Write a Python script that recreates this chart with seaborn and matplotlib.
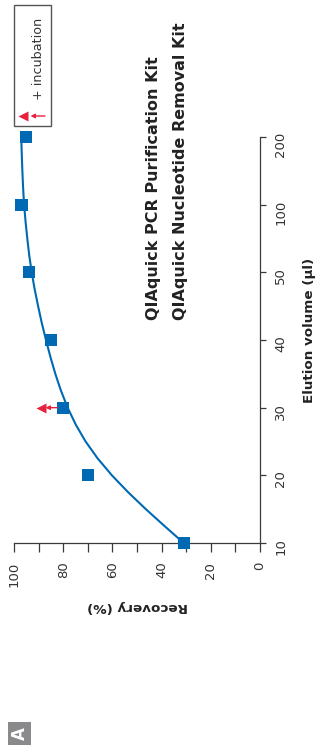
import numpy as np
import pandas as pd
import matplotlib
matplotlib.use("Agg")
import matplotlib.pyplot as plt
import seaborn as sns
from matplotlib.patches import Rectangle

# ---------------- data ----------------
ELUTION_LABELS = ["10", "20", "30", "40", "50", "100", "200"]
RECOVERY = [31, 70, 80, 85, 94, 97, 95]
INCUBATION_AT = "30"
INCUBATION_RECOVERY = 89
# fitted curve (position index on the elution axis, recovery %)
CURVE_POS = [0, 0.25, 0.5, 0.75, 1.0, 1.25, 1.5, 1.75, 2.0, 2.25, 2.5, 2.75, 3.0,
             3.25, 3.5, 3.75, 4.0, 4.25, 4.5, 4.75, 5.0, 5.25, 5.5, 5.75, 6.0]
CURVE_REC = [31, 38.8, 46.4, 53.6, 60.2, 66.0, 70.9, 74.9, 78.2, 80.9, 83.2, 85.2, 87.0,
             88.7, 90.2, 91.6, 92.8, 93.8, 94.6, 95.3, 95.9, 96.3, 96.6, 96.85, 97.05]
RECOVERY_TICKS = [0, 10, 20, 30, 40, 50, 60, 70, 80, 90, 100]
RECOVERY_TICK_LABELS = ["0", "", "20", "", "40", "", "60", "", "80", "", "100"]
TITLE_LINES = ["QIAquick PCR Purification Kit", "QIAquick Nucleotide Removal Kit"]
X_LABEL = "Elution volume (µl)"
Y_LABEL = "Recovery (%)"
LEGEND_LABEL = "+ incubation"
PANEL_LABEL = "A"

BLUE = "#0069b4"
RED = "#e8213f"
AXC = "#3a3a3a"

sns.set_style("white")
plt.rcParams["font.family"] = ["DejaVu Sans"]

W, H = 321, 754
fig = plt.figure(figsize=(W / 100, H / 100), dpi=100)

def fx(x):
    return x / W

def fy(y):
    return 1 - y / H

# main axes (rotated layout): x = recovery (inverted), y = elution position
left_px, right_px, top_px, bot_px = 14, 260, 137, 543
ax = fig.add_axes([fx(left_px), fy(bot_px), (right_px - left_px) / W, (bot_px - top_px) / H])

pos = list(range(len(ELUTION_LABELS)))
df = pd.DataFrame({"pos": pos, "recovery": RECOVERY, "elution": ELUTION_LABELS})
curve = pd.DataFrame({"pos": CURVE_POS, "recovery": CURVE_REC})

sns.lineplot(data=curve, x="recovery", y="pos", sort=False, color=BLUE, lw=1.5,
             ax=ax, zorder=2, clip_on=False, solid_joinstyle="round")
sns.scatterplot(data=df, x="recovery", y="pos", marker="s", s=78, color=BLUE,
                edgecolor="none", linewidth=0, ax=ax, zorder=3, clip_on=False)

inc_pos = ELUTION_LABELS.index(INCUBATION_AT)
inc_rec_square = RECOVERY[inc_pos]
ax.annotate("", xy=(INCUBATION_RECOVERY - 1.8, inc_pos), xytext=(inc_rec_square + 2.5, inc_pos),
            arrowprops=dict(arrowstyle="-|>", color=RED, lw=1.0, mutation_scale=6,
                            shrinkA=0, shrinkB=0), zorder=3, annotation_clip=False)
ax.plot([INCUBATION_RECOVERY], [inc_pos], marker="<", ms=7.5, color=RED, mec="none",
        ls="none", zorder=3, clip_on=False)

ax.set_xlim(100, 0)
ax.set_ylim(0, len(ELUTION_LABELS) - 1)
ax.set_xlabel("")
ax.set_ylabel("")
ax.set_xticks(RECOVERY_TICKS)
ax.set_xticklabels(RECOVERY_TICK_LABELS)
ax.set_yticks(pos)
ax.set_yticklabels(ELUTION_LABELS)
ax.yaxis.tick_right()
for s in ["left", "top"]:
    ax.spines[s].set_visible(False)
for s in ["right", "bottom"]:
    ax.spines[s].set_color(AXC)
    ax.spines[s].set_linewidth(0.9)
ax.tick_params(axis="x", direction="out", length=6.5, width=0.9, color=AXC, pad=7,
               labelsize=9.5, labelcolor="#333333", labelrotation=90, bottom=True)
ax.tick_params(axis="y", direction="out", length=4.3, width=0.9, color=AXC, pad=6,
               labelsize=9.5, labelcolor="#333333", labelrotation=90, right=True, left=False)
ax.patch.set_alpha(0)

# overlay in pixel coordinates for texts / legend
ov = fig.add_axes([0, 0, 1, 1])
ov.set_xlim(0, W)
ov.set_ylim(H, 0)
ov.axis("off")
ov.patch.set_alpha(0)

ov.text(138, 607, Y_LABEL, rotation=180, rotation_mode="anchor", ha="center", va="center",
        fontsize=9.7, fontweight="bold", color="#222222")
ov.text(310, 330, X_LABEL, rotation=90, rotation_mode="anchor", ha="center", va="center",
        fontsize=9.7, fontweight="bold", color="#222222")
ov.text(158, 320, TITLE_LINES[0], rotation=90, rotation_mode="anchor", ha="left",
        va="baseline", fontsize=11.5, fontweight="bold", color="#222222")
ov.text(185, 320, TITLE_LINES[1], rotation=90, rotation_mode="anchor", ha="left",
        va="baseline", fontsize=11.5, fontweight="bold", color="#222222")

# legend box
ov.add_patch(Rectangle((13.5, 5), 37.5, 121, fill=False, ec="#555555", lw=1.0))
ov.plot([23], [116], marker="<", ms=7.5, color=RED, mec="none", ls="none")
ov.annotate("", xy=(30.5, 116), xytext=(45, 116),
            arrowprops=dict(arrowstyle="-|>", color=RED, lw=1.0, mutation_scale=6,
                            shrinkA=0, shrinkB=0))
ov.text(41.5, 100, LEGEND_LABEL, rotation=90, rotation_mode="anchor", ha="left",
        va="baseline", fontsize=9.2, color="#333333")

# panel label
ov.add_patch(Rectangle((8, 722), 23, 23, color="#8a8a8c", lw=0))
ov.text(19.5, 733.5, PANEL_LABEL, rotation=90, rotation_mode="anchor", ha="center",
        va="center", fontsize=12, fontweight="bold", color="white")

fig.savefig("out.png", dpi=100)
